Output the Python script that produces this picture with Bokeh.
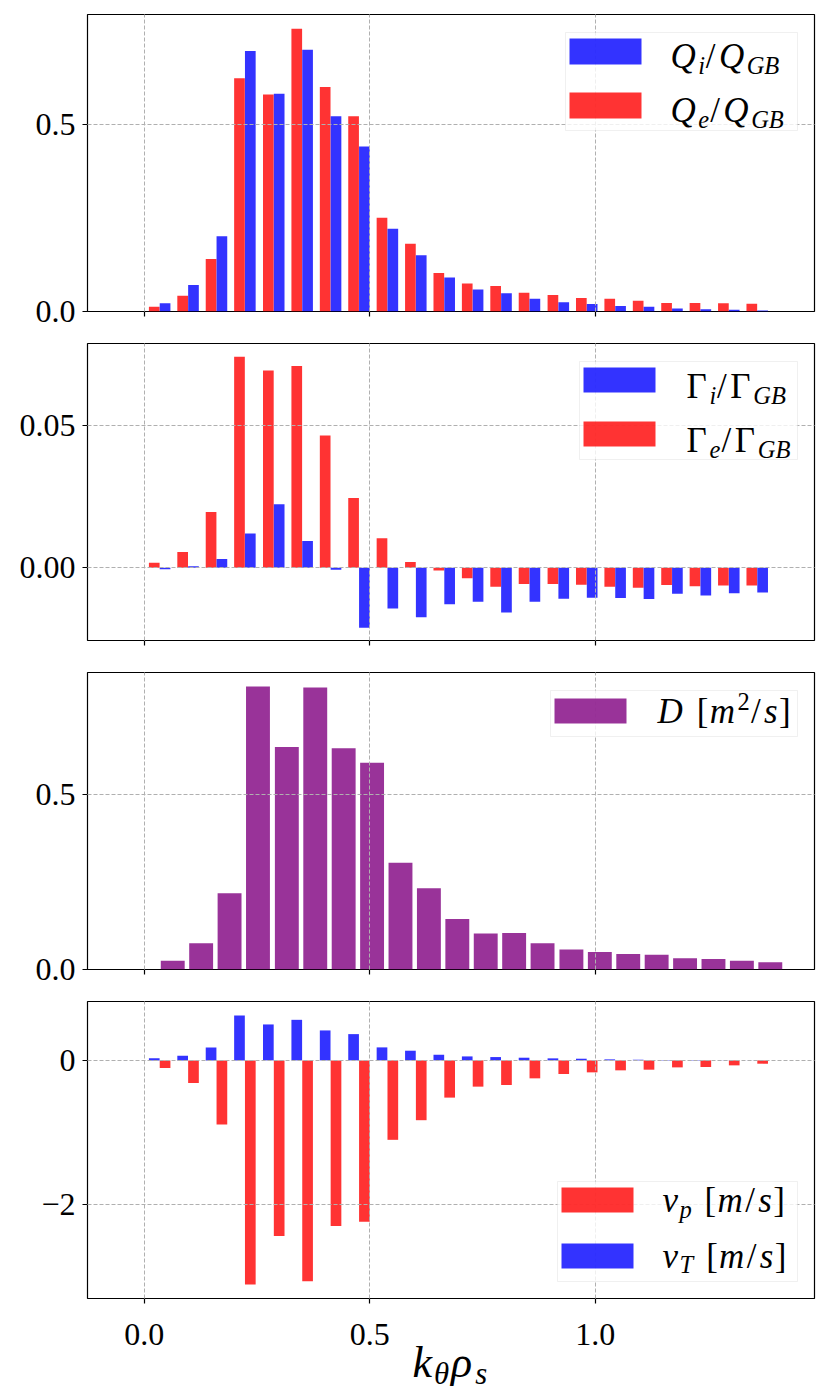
from bokeh.plotting import figure
from bokeh.models import Range1d, FixedTicker, Label, BoxAnnotation
from bokeh.layouts import column
from bokeh.embed import file_html
from bokeh.resources import INLINE

# ---------------- data ----------------
ky = [0.063, 0.126, 0.189, 0.252, 0.316, 0.379, 0.442, 0.505, 0.568, 0.631, 0.694,
      0.757, 0.820, 0.883, 0.947, 1.010, 1.073, 1.136, 1.199, 1.262, 1.325, 1.388]

q_i = [0.022, 0.071, 0.201, 0.695, 0.581, 0.698, 0.521, 0.440, 0.221, 0.150, 0.091,
       0.059, 0.049, 0.034, 0.025, 0.020, 0.015, 0.0125, 0.008, 0.006, 0.0045, 0.003]
q_e = [0.0125, 0.042, 0.140, 0.622, 0.579, 0.754, 0.599, 0.521, 0.250, 0.181, 0.103,
       0.075, 0.068, 0.050, 0.044, 0.036, 0.034, 0.029, 0.023, 0.023, 0.022, 0.021]

g_i = [-0.0006, 0.0005, 0.0031, 0.0121, 0.0224, 0.0094, -0.0007, -0.0212, -0.0144, -0.0175, -0.0129,
       -0.0120, -0.0158, -0.0120, -0.0110, -0.0106, -0.0107, -0.0111, -0.0092, -0.0098, -0.0090, -0.0088]
g_e = [0.0017, 0.0055, 0.0196, 0.0744, 0.0696, 0.0712, 0.0466, 0.0246, 0.0104, 0.0020, -0.0010,
       -0.0037, -0.0067, -0.0058, -0.0058, -0.0060, -0.0067, -0.0071, -0.0061, -0.0066, -0.0063, -0.0063]

d_coef = [0.025, 0.075, 0.218, 0.808, 0.635, 0.805, 0.632, 0.590, 0.305, 0.232, 0.144,
          0.103, 0.104, 0.075, 0.057, 0.050, 0.044, 0.042, 0.032, 0.030, 0.025, 0.021]

v_p = [-0.106, -0.313, -0.889, -3.106, -2.433, -3.060, -2.295, -2.235, -1.101, -0.829, -0.516,
       -0.364, -0.341, -0.249, -0.189, -0.166, -0.138, -0.129, -0.097, -0.092, -0.069, -0.046]
v_t = [0.028, 0.065, 0.180, 0.622, 0.498, 0.562, 0.415, 0.364, 0.180, 0.134, 0.078,
       0.055, 0.046, 0.037, 0.028, 0.023, 0.014, 0.009, 0.005, 0.005, 0.002, 0.001]

x_ticks = [0.0, 0.5, 1.0]
x_tick_labels = ["0.0", "0.5", "1.0"]
y_ticks_q = [0.0, 0.5];   y_labels_q = ["0.0", "0.5"]
y_ticks_g = [0.0, 0.05];  y_labels_g = ["0.00", "0.05"]
y_ticks_d = [0.0, 0.5];   y_labels_d = ["0.0", "0.5"]
y_ticks_v = [-2, 0];      y_labels_v = ["\u22122", "0"]

# ---------------- styling ----------------
FONT = "Liberation Serif"
FW, FH = 727, 297
BLUE, RED, PURPLE = "blue", "red", "purple"
ALPHA = 0.8
PAIR_W = 0.0237
LEFT_OFF, RIGHT_OFF = -0.041, -0.017
D_W = 0.053
BORDER_L, BORDER_R = 87, 8

x_range = Range1d(-0.126, 1.486)


def make_fig(y0, y1, yticks, ylabels, top_b, bottom_b):
    p = figure(frame_width=FW, frame_height=FH, x_range=x_range, y_range=Range1d(y0, y1),
               output_backend="svg", toolbar_location=None,
               min_border_left=BORDER_L, min_border_right=BORDER_R,
               min_border_top=top_b, min_border_bottom=bottom_b)
    p.background_fill_color = "white"
    p.border_fill_color = "white"
    p.outline_line_color = "black"
    p.outline_line_width = 1.2
    p.outline_line_alpha = 1.0
    for ax in (p.xaxis[0], p.yaxis[0]):
        ax.axis_line_color = None
        ax.major_tick_out = 5
        ax.major_tick_in = 0
        ax.major_tick_line_color = "black"
        ax.major_tick_line_width = 1.2
        ax.minor_tick_line_color = None
        ax.major_label_text_font = FONT
        ax.major_label_text_font_size = "32px"
        ax.major_label_text_color = "black"
    p.yaxis.ticker = FixedTicker(ticks=yticks)
    p.yaxis.major_label_overrides = {float(t): s for t, s in zip(yticks, ylabels)}
    p.yaxis.major_label_standoff = 7
    # x tick labels are drawn once, under the last panel (see strip below)
    p.xaxis.ticker = FixedTicker(ticks=x_ticks)
    p.xaxis.major_label_overrides = {float(t): "" for t in x_ticks}
    p.xaxis.major_label_text_font_size = "0px"
    p.xaxis.major_label_standoff = 0
    p.grid.grid_line_color = "#b0b0b0"
    p.grid.grid_line_dash = "4 2"
    p.grid.grid_line_width = 1
    p.grid.level = "guide"
    return p


def px2d(p, fx, fy):
    xr, yr = p.x_range, p.y_range
    return (xr.start + fx / p.frame_width * (xr.end - xr.start),
            yr.end - fy / p.frame_height * (yr.end - yr.start))


W_IT = {"Q": .722, "i": .278, "e": .444, "G": .722, "B": .611, "k": .444, "s": .389,
        "m": .722, "p": .5, "v": .444, "T": .556, "D": .722, "\u03b8": .5, "\u03c1": .5}
W_RM = {"/": .34, "[": .333, "]": .333, "2": .5, "\u0393": .60, " ": .30}


def math_text(p, pieces, fx, fy_mid, F):
    """Draw a formula from pieces; fy_mid is the vertical middle of the main-size text."""
    cur = fx
    for txt, kind in pieces:
        if kind == "it":
            size, style, shift, table = F, "italic", 0.0, W_IT
        elif kind == "rm":
            size, style, shift, table = F, "normal", 0.0, W_RM
        elif kind == "sub":
            size, style, shift, table = 0.7 * F, "italic", 0.25 * F, W_IT
        else:  # sup
            size, style, shift, table = 0.7 * F, "normal", -0.28 * F, W_RM
        if txt.strip():
            x, y = px2d(p, cur, fy_mid + shift)
            p.add_layout(Label(x=x, y=y, text=txt, text_font=FONT,
                               text_font_size=f"{size:.1f}px", text_font_style=style,
                               text_align="left", text_baseline="middle",
                               text_color="black"))
        cur += sum(table.get(c, 0.5) for c in txt) * size * 1.1


def legend(p, box, rows, text_x, F=35):
    (bl, bt, br, bb) = box
    x0, y0 = px2d(p, bl, bt)
    x1, y1 = px2d(p, br, bb)
    p.add_layout(BoxAnnotation(left=x0, right=x1, top=y0, bottom=y1,
                               fill_color="white", fill_alpha=0.8,
                               line_color="#cccccc", line_width=1))
    for (color, pt, pb, pieces, mid) in rows:
        a0, b0 = px2d(p, bl + 4, pt)
        a1, b1 = px2d(p, bl + 76, pb)
        p.add_layout(BoxAnnotation(left=a0, right=a1, top=b0, bottom=b1,
                                   fill_color=color, fill_alpha=ALPHA, line_color=None))
        math_text(p, pieces, text_x, mid, F)


# ---------------- panel 1: heat fluxes ----------------
p1 = make_fig(0.0, 0.792, y_ticks_q, y_labels_q, 14, 27)
p1.vbar(x=[k + LEFT_OFF for k in ky], top=q_e, bottom=0, width=PAIR_W,
        fill_color=RED, fill_alpha=ALPHA, line_color=None)
p1.vbar(x=[k + RIGHT_OFF for k in ky], top=q_i, bottom=0, width=PAIR_W,
        fill_color=BLUE, fill_alpha=ALPHA, line_color=None)
legend(p1, (478, 18, 710, 116),
       [(BLUE, 24, 50, [("Q", "it"), ("i", "sub"), ("/", "rm"), ("Q", "it"), ("GB", "sub")], 42),
        (RED, 78, 104, [("Q", "it"), ("e", "sub"), ("/", "rm"), ("Q", "it"), ("GB", "sub")], 96)],
       583)

# ---------------- panel 2: particle fluxes ----------------
p2 = make_fig(-0.0257, 0.0791, y_ticks_g, y_labels_g, 5, 27)
p2.vbar(x=[k + LEFT_OFF for k in ky], top=g_e, bottom=0, width=PAIR_W,
        fill_color=RED, fill_alpha=ALPHA, line_color=None)
p2.vbar(x=[k + RIGHT_OFF for k in ky], top=g_i, bottom=0, width=PAIR_W,
        fill_color=BLUE, fill_alpha=ALPHA, line_color=None)
legend(p2, (492, 18, 710, 116),
       [(BLUE, 24, 49, [("\u0393", "rm"), ("i", "sub"), ("/", "rm"), ("\u0393", "rm"), ("GB", "sub")], 43),
        (RED, 78, 103, [("\u0393", "rm"), ("e", "sub"), ("/", "rm"), ("\u0393", "rm"), ("GB", "sub")], 97)],
       599)

# ---------------- panel 3: diffusivity ----------------
p3 = make_fig(0.0, 0.848, y_ticks_d, y_labels_d, 5, 27)
p3.vbar(x=ky, top=d_coef, bottom=0, width=D_W,
        fill_color=PURPLE, fill_alpha=ALPHA, line_color=None)
legend(p3, (463, 18, 710, 64),
       [(PURPLE, 26, 51, [("D", "it"), (" ", "rm"), ("[", "rm"), ("m", "it"), ("2", "sup"),
                          ("/", "rm"), ("s", "it"), ("]", "rm")], 39)],
       570)

# ---------------- panel 4: velocities ----------------
p4 = make_fig(-3.30, 0.816, y_ticks_v, y_labels_v, 5, 6)
p4.vbar(x=[k + LEFT_OFF for k in ky], top=v_t, bottom=0, width=PAIR_W,
        fill_color=BLUE, fill_alpha=ALPHA, line_color=None)
p4.vbar(x=[k + RIGHT_OFF for k in ky], top=v_p, bottom=0, width=PAIR_W,
        fill_color=RED, fill_alpha=ALPHA, line_color=None)
legend(p4, (470, 180, 710, 280),
       [(RED, 186, 211, [("v", "it"), ("p", "sub"), (" ", "rm"), ("[", "rm"), ("m", "it"),
                         ("/", "rm"), ("s", "it"), ("]", "rm")], 199),
        (BLUE, 242, 267, [("v", "it"), ("T", "sub"), (" ", "rm"), ("[", "rm"), ("m", "it"),
                          ("/", "rm"), ("s", "it"), ("]", "rm")], 254.5)],
       575)

# ---------------- strip below: x tick labels and x-axis label ----------------
p5 = figure(frame_width=FW, frame_height=89, x_range=x_range, y_range=Range1d(0, 1),
            output_backend="svg", toolbar_location=None,
            min_border_left=BORDER_L, min_border_right=BORDER_R,
            min_border_top=0, min_border_bottom=0,
            x_axis_location=None, y_axis_location=None)
p5.outline_line_color = None
p5.grid.visible = False
p5.background_fill_color = "white"
p5.border_fill_color = "white"
for t, s in zip(x_ticks, x_tick_labels):
    _, ty = px2d(p5, 0, 30)
    p5.add_layout(Label(x=t, y=ty, text=s, text_font=FONT, text_font_size="32px",
                        text_align="center", text_baseline="middle", text_color="black"))
math_text(p5, [("k", "it"), ("\u03b8", "sub"), ("\u03c1", "it"), ("s", "sub")], 325, 58, 44)

layout = column(p1, p2, p3, p4, p5)
open("out.html", "w").write(file_html(layout, INLINE))
